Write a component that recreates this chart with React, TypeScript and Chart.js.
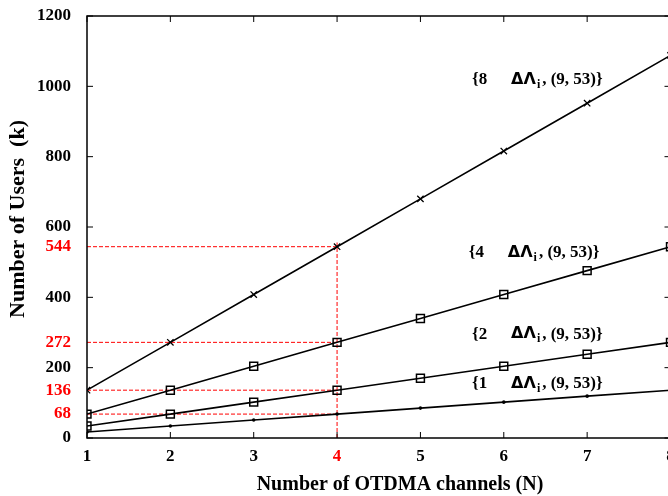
import React, { useEffect, useRef } from "react";
import { Chart, registerables } from "chart.js";

Chart.register(...registerables);

const channels = [1, 2, 3, 4, 5, 6, 7, 8];
const users8 = [136, 272, 408, 544, 680, 816, 952, 1088];
const users4 = [68, 136, 204, 272, 340, 408, 476, 544];
const users2 = [34, 68, 102, 136, 170, 204, 238, 272];
const users1 = [17, 34, 51, 68, 85, 102, 119, 136];

const yTickValues = [0, 68, 136, 200, 272, 400, 544, 600, 800, 1000, 1200];
const redYTicks = [68, 136, 272, 544];
const redXTicks = [4];
const majorYTicks = [0, 200, 400, 600, 800, 1000, 1200];

const markChannel = 4;
const markLevels = [544, 272, 136, 68];
const markTop = 556;

const annotations = [
  { lead: "{8", x: 5.62, y: 1018 },
  { lead: "{4", x: 5.58, y: 526 },
  { lead: "{2", x: 5.62, y: 295 },
  { lead: "{1", x: 5.62, y: 154 },
];

const SERIF = '"Liberation Serif", "DejaVu Serif", serif';

const framePlugin = {
  id: "frame",
  afterDatasetsDraw(chart: any) {
    const { ctx, chartArea: a, scales } = chart;
    const xs = scales.x;
    const ys = scales.y;
    ctx.save();
    ctx.strokeStyle = "#000";
    ctx.lineWidth = 1.5;
    ctx.strokeRect(a.left, a.top, a.right - a.left, a.bottom - a.top);
    ctx.lineWidth = 1;
    ctx.beginPath();
    for (const v of channels) {
      const px = xs.getPixelForValue(v);
      ctx.moveTo(px, a.bottom);
      ctx.lineTo(px, a.bottom - 6);
      ctx.moveTo(px, a.top);
      ctx.lineTo(px, a.top + 6);
    }
    for (const v of majorYTicks) {
      const py = ys.getPixelForValue(v);
      ctx.moveTo(a.left, py);
      ctx.lineTo(a.left + 6, py);
      ctx.moveTo(a.right, py);
      ctx.lineTo(a.right - 6, py);
    }
    ctx.stroke();

    // annotations
    ctx.fillStyle = "#000";
    ctx.textBaseline = "middle";
    ctx.textAlign = "left";
    for (const an of annotations) {
      const px = xs.getPixelForValue(an.x);
      const py = ys.getPixelForValue(an.y);
      ctx.font = `bold 17px ${SERIF}`;
      ctx.fillText(an.lead, px, py);
      let cx = px + 39;
      ctx.font = `bold 16px "DejaVu Sans", sans-serif`;
      ctx.fillText("\u0394\u039B", cx, py);
      cx += ctx.measureText("\u0394\u039B").width + 1;
      ctx.font = `bold 12px ${SERIF}`;
      ctx.fillText("i", cx, py + 5);
      cx += ctx.measureText("i").width + 2;
      ctx.font = `bold 17px ${SERIF}`;
      ctx.fillText(", (9, 53)}", cx, py);
    }

    // axis titles
    ctx.font = `bold 20px ${SERIF}`;
    ctx.textAlign = "center";
    ctx.fillText("Number of OTDMA channels (N)", 400, 485);
    ctx.save();
    ctx.translate(18, 219);
    ctx.rotate(-Math.PI / 2);
    ctx.font = `bold 22px ${SERIF}`;
    ctx.fillText("Number of Users  (k)", 0, 0);
    ctx.restore();
    ctx.restore();
  },
};

function series(values: number[]) {
  return channels.map((c, i) => ({ x: c, y: values[i] }));
}

export default function App() {
  const ref = useRef<HTMLCanvasElement | null>(null);

  useEffect(() => {
    document.body.style.margin = "0";
    const canvas = ref.current;
    if (!canvas) return;

    const redLines = markLevels.map((lvl) => ({
      data: [
        { x: channels[0], y: lvl },
        { x: markChannel, y: lvl },
      ],
      borderColor: "#ff0000",
      borderWidth: 1,
      borderDash: [4, 2],
      pointRadius: 0,
      fill: false,
    }));
    const redVertical = {
      data: [
        { x: markChannel, y: 0 },
        { x: markChannel, y: markTop },
      ],
      borderColor: "#ff0000",
      borderWidth: 1,
      borderDash: [4, 2],
      pointRadius: 0,
      fill: false,
    };

    const base = {
      borderColor: "#000",
      borderWidth: 1.6,
      fill: false,
      tension: 0,
      pointBorderColor: "#000",
    };

    const chart = new Chart(canvas, {
      type: "line",
      data: {
        datasets: [
          {
            ...base,
            data: series(users8),
            pointStyle: "crossRot",
            pointRadius: 4.5,
            pointBorderWidth: 1.3,
          },
          {
            ...base,
            data: series(users4),
            pointStyle: "rect",
            pointRadius: 5.6,
            pointBorderWidth: 1.5,
            pointBackgroundColor: "rgba(0,0,0,0)",
          },
          {
            ...base,
            data: series(users2),
            pointStyle: "rect",
            pointRadius: 5.6,
            pointBorderWidth: 1.5,
            pointBackgroundColor: "rgba(0,0,0,0)",
          },
          {
            ...base,
            data: series(users1),
            pointStyle: "circle",
            pointRadius: 1.8,
            pointBorderWidth: 0,
            pointBackgroundColor: "#000",
          },
          ...redLines,
          redVertical,
        ] as any,
      },
      options: {
        animation: false,
        responsive: false,
        maintainAspectRatio: false,
        layout: { padding: { left: 0, right: 9.5, top: 16, bottom: 0 } },
        plugins: {
          legend: { display: false },
          tooltip: { enabled: false },
        },
        scales: {
          x: {
            type: "linear",
            min: 1,
            max: 8,
            grid: { display: false, drawTicks: false },
            border: { display: false },
            afterFit: (s: any) => {
              s.height = 58;
              s.paddingLeft = 0;
              s.paddingRight = 0;
            },
            ticks: {
              stepSize: 1,
              padding: 8,
              font: { family: SERIF, size: 17, weight: "bold" },
              color: (c: any) => (redXTicks.includes(c.tick.value) ? "#ff0000" : "#000"),
              callback: (v: any) => String(v),
            },
          },
          y: {
            type: "linear",
            min: 0,
            max: 1200,
            grid: { display: false, drawTicks: false },
            border: { display: false },
            afterBuildTicks: (s: any) => {
              s.ticks = yTickValues.map((v) => ({ value: v }));
            },
            afterFit: (s: any) => {
              s.width = 87;
              s.paddingTop = 0;
              s.paddingBottom = 0;
            },
            ticks: {
              padding: 16,
              autoSkip: false,
              font: { family: SERIF, size: 17, weight: "bold" },
              color: (c: any) => (redYTicks.includes(c.tick.value) ? "#ff0000" : "#000"),
              callback: (v: any) => String(v),
            },
          },
        },
      } as any,
      plugins: [framePlugin],
    });
    return () => chart.destroy();
  }, []);

  return (
    <div style={{ width: 668, height: 496, overflow: "hidden", position: "relative" }}>
      <canvas ref={ref} width={680} height={496} style={{ display: "block", width: 680, height: 496 }} />
    </div>
  );
}
